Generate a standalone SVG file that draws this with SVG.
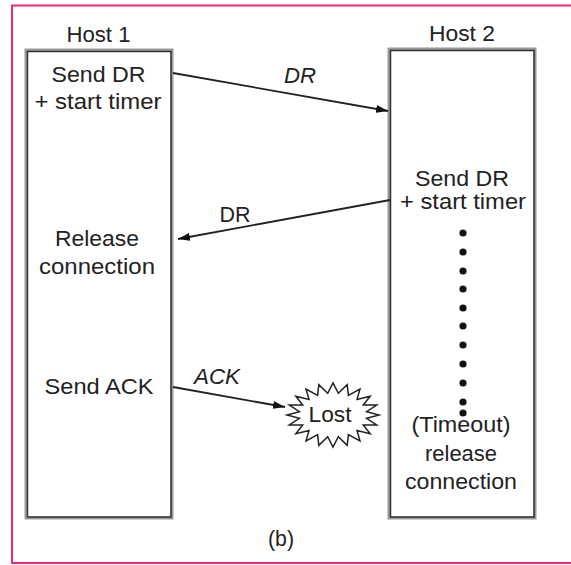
<svg xmlns="http://www.w3.org/2000/svg" width="571" height="565" viewBox="0 0 571 565">
<style>
text{font-family:"Liberation Sans",Arial,sans-serif;font-size:22px;fill:#222;text-anchor:middle}
.it{font-style:italic}
.box-outer{fill:none;stroke:#9a9a9a;stroke-width:3}
.box-inner{fill:none;stroke:#333;stroke-width:1.5}
.conn{stroke:#222;stroke-width:1.8;fill:none}
.dot{fill:#111}
</style>
<defs>
<marker id="ah" viewBox="0 0 12 8" refX="12" refY="4" markerWidth="12" markerHeight="8" markerUnits="userSpaceOnUse" orient="auto">
<path d="M0,0 L12,4 L0,8 z" fill="#111"/>
</marker>
</defs>
<rect x="0" y="0" width="571" height="565" fill="#fff"/>
<rect x="12" y="5.5" width="580" height="557.5" fill="none" stroke="#f0287a" stroke-width="2"/>

<g id="host1">
<rect class="box-outer" x="26" y="50" width="146" height="468"/>
<rect class="box-inner" x="27.5" y="51.5" width="143.5" height="465.5"/>
<text x="98.5" y="42" textLength="64" lengthAdjust="spacingAndGlyphs">Host 1</text>
<text x="98.5" y="82" textLength="94" lengthAdjust="spacingAndGlyphs">Send DR</text>
<text x="98" y="109" textLength="127" lengthAdjust="spacingAndGlyphs">+ start timer</text>
<text x="97" y="246" textLength="84" lengthAdjust="spacingAndGlyphs">Release</text>
<text x="97" y="274" textLength="116" lengthAdjust="spacingAndGlyphs">connection</text>
<text x="99" y="394" textLength="109" lengthAdjust="spacingAndGlyphs">Send ACK</text>
</g>

<g id="host2">
<rect class="box-outer" x="389" y="49" width="146" height="469"/>
<rect class="box-inner" x="390.5" y="50.5" width="143.5" height="466.5"/>
<text x="462" y="41" textLength="66" lengthAdjust="spacingAndGlyphs">Host 2</text>
<text x="462" y="186" textLength="94" lengthAdjust="spacingAndGlyphs">Send DR</text>
<text x="463" y="209" textLength="126" lengthAdjust="spacingAndGlyphs">+ start timer</text>
<text x="461" y="432" textLength="99" lengthAdjust="spacingAndGlyphs">(Timeout)</text>
<text x="461" y="461" textLength="72" lengthAdjust="spacingAndGlyphs">release</text>
<text x="461" y="489" textLength="112" lengthAdjust="spacingAndGlyphs">connection</text>
</g>

<g id="timer-dots">
<circle class="dot" cx="463" cy="233" r="3.6"/>
<circle class="dot" cx="463" cy="252" r="3.6"/>
<circle class="dot" cx="463" cy="271" r="3.6"/>
<circle class="dot" cx="463" cy="289" r="3.6"/>
<circle class="dot" cx="463" cy="308" r="3.6"/>
<circle class="dot" cx="463" cy="326" r="3.6"/>
<circle class="dot" cx="463" cy="345" r="3.6"/>
<circle class="dot" cx="463" cy="364" r="3.6"/>
<circle class="dot" cx="463" cy="383" r="3.6"/>
<circle class="dot" cx="463" cy="402" r="3.6"/>
<circle class="dot" cx="463" cy="413" r="3.6"/>
</g>

<g id="lost">
<polygon fill="#fff" stroke="#222" stroke-width="1.5" points="379,415 366.6,418.4 376.7,424.9 363.3,425 370.2,433.8 357,430.6 360,440.9 348.4,434.6 347.2,445.4 338.3,436.7 333,447 327.7,436.7 318.8,445.4 317.6,434.6 306,440.9 309,430.6 295.8,433.8 302.7,425 289.3,424.9 299.4,418.4 287,415 299.4,411.6 289.3,405.1 302.7,405 295.8,396.2 309,399.4 306,389.1 317.6,395.4 318.8,384.6 327.7,393.3 333,383 338.3,393.3 347.2,384.6 348.4,395.4 360,389.1 357,399.4 370.2,396.2 363.3,405 376.7,405.1 366.6,411.6"/>
<text x="330" y="422" textLength="43" lengthAdjust="spacingAndGlyphs">Lost</text>
</g>

<g id="connectors">
<line class="conn" x1="173" y1="73" x2="388" y2="111" marker-end="url(#ah)"/>
<line class="conn" x1="390" y1="200" x2="178" y2="239" marker-end="url(#ah)"/>
<line class="conn" x1="173" y1="387" x2="285" y2="407" marker-end="url(#ah)"/>
<text class="it" x="300" y="83" textLength="32" lengthAdjust="spacingAndGlyphs">DR</text>
<text x="235" y="222" textLength="31" lengthAdjust="spacingAndGlyphs">DR</text>
<text class="it" x="217" y="384" textLength="46" lengthAdjust="spacingAndGlyphs">ACK</text>
</g>

<text id="caption" x="281" y="546" textLength="26" lengthAdjust="spacingAndGlyphs">(b)</text>
</svg>
